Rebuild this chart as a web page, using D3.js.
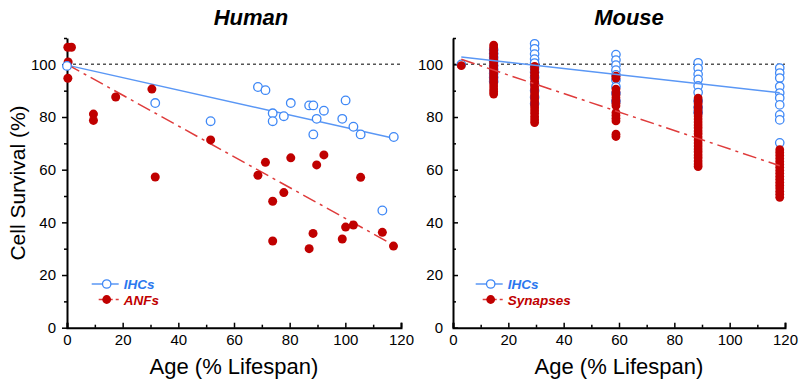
<!DOCTYPE html>
<html>
<head>
<meta charset="utf-8">
<script src="https://cdn.jsdelivr.net/npm/d3@7"></script>
<style>
  body { margin: 0; background: #fff; }
  text { font-family: "Liberation Sans", Arial, sans-serif; }
</style>
</head>
<body>
<svg id="chart" width="800" height="384"></svg>
<script>
// ---- data ----
const xTicks = [0, 20, 40, 60, 80, 100, 120];
const xMinor = [10, 30, 50, 70, 90, 110];
const yTicks = [0, 20, 40, 60, 80, 100];
const yMinor = [10, 30, 50, 70, 90, 110];

// Human
const humanIhcAge  = [0, 31.7, 51.6, 68.6, 71.3, 73.9, 73.9, 77.9, 80.4, 87, 88.5, 88.5, 89.7, 92.3, 98.9, 100.1, 102.9, 105.5, 113.3, 117.4];
const humanIhcSurv = [99.4, 85.3, 78.4, 91.4, 90.2, 81.4, 78.4, 80.3, 85.3, 84.4, 84.4, 73.4, 79.3, 82.4, 79.3, 86.3, 76.3, 73.4, 44.5, 72.4];
const humanAnfAge  = [0.3, 1.6, 0.4, 0.3, 9.5, 9.5, 17.5, 30.5, 31.7, 51.6, 68.6, 71.3, 73.9, 73.9, 77.9, 80.4, 87, 88.4, 89.7, 92.3, 98.9, 100.1, 102.9, 105.5, 113.3, 117.3];
const humanAnfSurv = [106.5, 106.5, 100.9, 94.7, 81.1, 78.7, 87.6, 90.6, 57.2, 71.3, 57.9, 62.8, 48, 32.9, 51.3, 64.5, 30, 35.8, 61.8, 65.6, 33.7, 38.2, 39, 57.1, 36.2, 31];
const humanIhcFit = [[0, 99.7], [117.4, 71.9]];
const humanAnfFit = [[0, 100], [117.3, 31.4]];

// Mouse (ages in % lifespan, one column of animals per age)
const mouseAges = [3, 14.7, 29.5, 58.9, 88.6, 118.1];
const mouseIhcSurv = [
  [100],
  [105.5, 104, 102.5, 101, 99.5, 98, 96.5, 95, 93.5],
  [107.8, 105.9, 103.9, 102, 100.5, 98.8, 97, 95, 92.5, 90, 87.5, 85],
  [103.7, 101.6, 99.7, 97.8, 96, 94, 91.5, 89, 86],
  [100.6, 98.5, 96.2, 94.3, 91.8, 89.3, 86.1, 83.6, 81.7],
  [98.6, 96.7, 94.8, 91.6, 89.1, 87.2, 84.6, 80.8, 78.9, 70.2]
];
const mouseSynSurv = [
  [99.5],
  [107.3, 106.4, 105.2, 104.1, 103, 101.8, 100.9, 99.7, 98.6, 97.5, 96.3, 95.2, 94.1, 93, 91.8, 90.6, 89.6, 88.7],
  [99.2, 98.1, 97, 95.9, 94.8, 93.6, 92.5, 91.4, 90.3, 89.1, 88, 86.9, 85.8, 84.6, 83.5, 82.4, 81.3, 80.1, 79, 77.9],
  [95.5, 94.8, 90.6, 89.5, 88.4, 87.3, 86.2, 85.2, 84.3, 81.7, 80.6, 79.5, 78.5, 73.5, 72.6],
  [87.2, 86.1, 85, 83.8, 82.7, 81.5, 80.4, 79.2, 78.1, 77, 75.9, 74.7, 73.6, 72.4, 71.3, 70.1, 69, 67.9, 66.8, 65.6, 64.5, 63.3, 62.2, 61.2],
  [67.6, 66.5, 65.4, 64.2, 63.1, 62, 60.9, 59.7, 58.6, 57.5, 56.4, 55.2, 54.1, 53, 51.8, 50.7, 49.5]
];
const mouseIhcFit = [[3, 102.8], [118.1, 89.2]];
const mouseSynFit = [[3, 101.9], [118.1, 61.5]];

// ---- styling ----
const blue = '#3f88f6';
const blueLine = '#5a97f5';
const blueText = '#2b78ee';
const red = '#c00000';
const redLine = '#df3b3b';
const dashDot = '14,5,3,5';

const svg = d3.select('#chart');

const yScale = d3.scaleLinear().domain([0, 110]).range([327.7, 38]);

const panel = (props) => {
  const { left, right, title, titleX, yTickSide, legendX, legendNames } = props;
  const xScale = d3.scaleLinear().domain([0, 120]).range([left, right]);
  const g = svg.append('g');

  // reference line at 100 %
  g.append('line')
      .attr('x1', xScale(0)).attr('x2', xScale(120))
      .attr('y1', yScale(100)).attr('y2', yScale(100))
      .attr('stroke', '#555').attr('stroke-width', 1.5)
      .attr('stroke-dasharray', '3,3');

  // x axis (ticks point inward)
  const xAxisG = g.append('g')
      .attr('transform', `translate(0,${yScale(0)})`)
      .call(d3.axisBottom(xScale).tickValues(xTicks).tickSize(-5).tickPadding(7));
  xAxisG.append('g')
      .call(d3.axisBottom(xScale).tickValues(xMinor).tickSize(-3).tickFormat(''))
      .select('.domain').remove();
  xAxisG.selectAll('.tick text').attr('font-size', 15).attr('fill', '#000')
      .style('font-family', '"Liberation Sans", Arial, sans-serif');

  // y axis
  const inward = yTickSide === 'in';
  const yAxisG = g.append('g')
      .attr('transform', `translate(${left},0)`)
      .call(d3.axisLeft(yScale).tickValues(yTicks)
        .tickSize(inward ? -5 : 5).tickPadding(inward ? 10 : 6).tickSizeOuter(0));
  yAxisG.append('g')
      .call(d3.axisLeft(yScale).tickValues(yMinor).tickSize(inward ? -3 : 3).tickFormat(''))
      .select('.domain').remove();
  yAxisG.selectAll('.tick text').attr('font-size', 15).attr('fill', '#000')
      .style('font-family', '"Liberation Sans", Arial, sans-serif');

  [xAxisG, yAxisG].forEach(a => {
    a.selectAll('.domain').attr('stroke', '#000').attr('stroke-width', 2);
    a.selectAll('.tick line').attr('stroke', '#000').attr('stroke-width', 1.5);
  });

  // title and axis label
  g.append('text')
      .attr('x', titleX).attr('y', 25)
      .attr('text-anchor', 'middle')
      .attr('font-size', 22).attr('font-weight', 'bold').attr('font-style', 'italic')
      .text(title);
  g.append('text')
      .attr('x', (xScale(0) + xScale(120)) / 2).attr('y', 374)
      .attr('text-anchor', 'middle')
      .attr('font-size', 22)
      .text('Age (% Lifespan)');

  // legend
  const legend = g.append('g');
  const ly = [284, 299.5];
  legend.append('line')
      .attr('x1', legendX - 15).attr('x2', legendX + 12)
      .attr('y1', ly[0]).attr('y2', ly[0])
      .attr('stroke', blueLine).attr('stroke-width', 1.5);
  legend.append('circle')
      .attr('cx', legendX).attr('cy', ly[0]).attr('r', 4.2)
      .attr('fill', '#fff').attr('stroke', blue).attr('stroke-width', 1.3);
  legend.append('line')
      .attr('x1', legendX - 8).attr('x2', legendX + 12)
      .attr('y1', ly[1]).attr('y2', ly[1])
      .attr('stroke', redLine).attr('stroke-width', 1.5)
      .attr('stroke-dasharray', '9,3,2,3');
  legend.append('circle')
      .attr('cx', legendX).attr('cy', ly[1]).attr('r', 4.4)
      .attr('fill', red);
  legend.selectAll('text').data(legendNames).enter().append('text')
      .attr('x', legendX + 17)
      .attr('y', (d, i) => ly[i] + 5)
      .attr('font-size', 13.5).attr('font-weight', 'bold').attr('font-style', 'italic')
      .attr('fill', (d, i) => i === 0 ? blueText : red)
      .text(d => d);

  return { g, xScale };
};

const fitLine = (g, xScale, pts, color, dash) => {
  g.append('line')
      .attr('x1', xScale(pts[0][0])).attr('y1', yScale(pts[0][1]))
      .attr('x2', xScale(pts[1][0])).attr('y2', yScale(pts[1][1]))
      .attr('stroke', color).attr('stroke-width', 1.5)
      .attr('stroke-dasharray', dash);
};

// ---- Human panel ----
const human = panel({
  left: 67, right: 401, title: 'Human', titleX: 251, yTickSide: 'out',
  legendX: 106.7, legendNames: ['IHCs', 'ANFs']
});
fitLine(human.g, human.xScale, humanIhcFit, blueLine, null);
fitLine(human.g, human.xScale, humanAnfFit, redLine, dashDot);
human.g.append('g').selectAll('circle')
  .data(humanAnfAge.map((a, i) => [a, humanAnfSurv[i]]))
  .enter().append('circle')
    .attr('cx', d => human.xScale(d[0])).attr('cy', d => yScale(d[1]))
    .attr('r', 4.5).attr('fill', red);
human.g.append('g').selectAll('circle')
  .data(humanIhcAge.map((a, i) => [a, humanIhcSurv[i]]))
  .enter().append('circle')
    .attr('cx', d => human.xScale(d[0])).attr('cy', d => yScale(d[1]))
    .attr('r', 4.3).attr('fill', '#fff').attr('stroke', blue).attr('stroke-width', 1.3);

// ---- Mouse panel ----
const mouse = panel({
  left: 453, right: 785, title: 'Mouse', titleX: 629, yTickSide: 'in',
  legendX: 490.7, legendNames: ['IHCs', 'Synapses']
});
const flat = (vals) => vals.flatMap((col, i) => col.map(v => [mouseAges[i], v]));
mouse.g.append('g').selectAll('circle')
  .data(flat(mouseIhcSurv))
  .enter().append('circle')
    .attr('cx', d => mouse.xScale(d[0])).attr('cy', d => yScale(d[1]))
    .attr('r', 4.2).attr('fill', '#fff').attr('stroke', blue).attr('stroke-width', 1.3);
mouse.g.append('g').selectAll('circle')
  .data(flat(mouseSynSurv))
  .enter().append('circle')
    .attr('cx', d => mouse.xScale(d[0])).attr('cy', d => yScale(d[1]))
    .attr('r', 4.4).attr('fill', red);
fitLine(mouse.g, mouse.xScale, mouseIhcFit, blueLine, null);
fitLine(mouse.g, mouse.xScale, mouseSynFit, redLine, dashDot);

// shared y label
svg.append('text')
    .attr('transform', 'translate(25,183) rotate(-90)')
    .attr('text-anchor', 'middle')
    .attr('font-size', 21)
    .text('Cell Survival (%)');
</script>
</body>
</html>
